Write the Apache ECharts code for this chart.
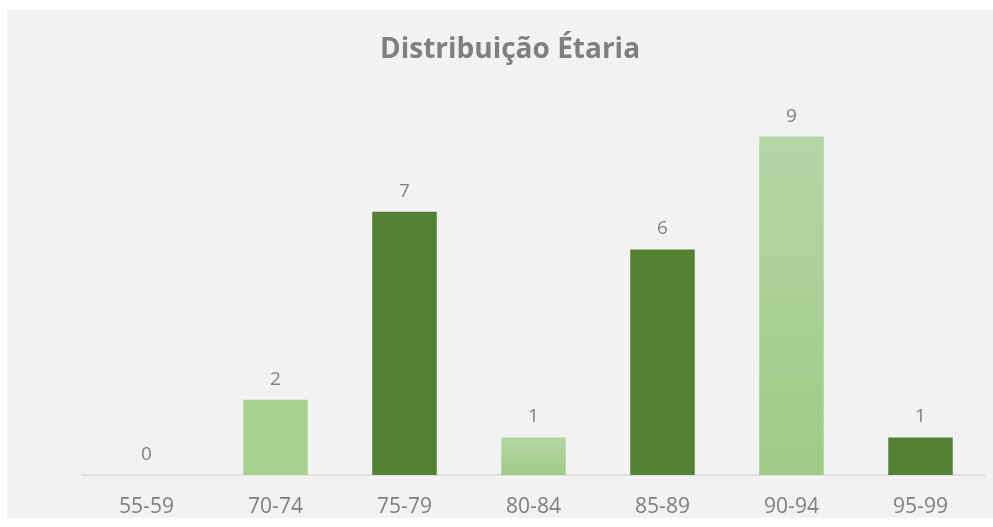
<!DOCTYPE html>
<html>
<head>
<meta charset="utf-8">
<script src="https://cdn.jsdelivr.net/npm/echarts@6/dist/echarts.min.js"></script>
<style>
  html, body { margin: 0; padding: 0; background: #fff; }
  #main { width: 993px; height: 527px; }
</style>
</head>
<body>
<div id="main"></div>
<script>
// faixas etárias
const categories = ['55-59', '70-74', '75-79', '80-84', '85-89', '90-94', '95-99'];
const counts = [0, 2, 7, 1, 6, 9, 1];

const dark = '#548235';
const light = '#a9d18e';
const fade = new echarts.graphic.LinearGradient(0, 0, 0, 1, [
  { offset: 0, color: '#b5d6a6' },
  { offset: 1, color: '#9fcb86' }
]);
// cor de cada barra
const barColors = [light, light, dark, fade, dark, fade, dark];

let chart = echarts.init(document.getElementById('main'));
chart.setOption({
  backgroundColor: '#fff',
  graphic: [{
    type: 'rect',
    z: -10,
    shape: { x: 7, y: 10, width: 986, height: 508 },
    style: { fill: '#f2f2f2' }
  }],
  title: {
    text: 'Distribuição Étaria',
    left: 505,
    textAlign: 'center',
    top: 31,
    textStyle: {
      color: '#7f7f7f',
      fontFamily: 'Open Sans',
      fontWeight: 'bold',
      fontSize: 28
    }
  },
  grid: { left: 82, right: 8, top: 99, bottom: 52 },
  xAxis: {
    type: 'category',
    data: categories,
    axisTick: { show: false },
    axisLine: { lineStyle: { color: '#d9d9d9', width: 1.5 } },
    axisLabel: {
      color: '#7f7f7f',
      fontFamily: 'Open Sans',
      fontSize: 21,
      margin: 22
    }
  },
  yAxis: {
    type: 'value',
    min: 0,
    max: 10,
    show: false,
    splitLine: { show: false }
  },
  series: [{
    type: 'bar',
    barWidth: '50%',
    data: counts.map((v, i) => ({ value: v, itemStyle: { color: barColors[i] } })),
    label: {
      show: true,
      position: 'top',
      distance: 11,
      color: '#7f7f7f',
      fontFamily: 'Open Sans',
      fontSize: 19
    }
  }]
});
</script>
</body>
</html>
